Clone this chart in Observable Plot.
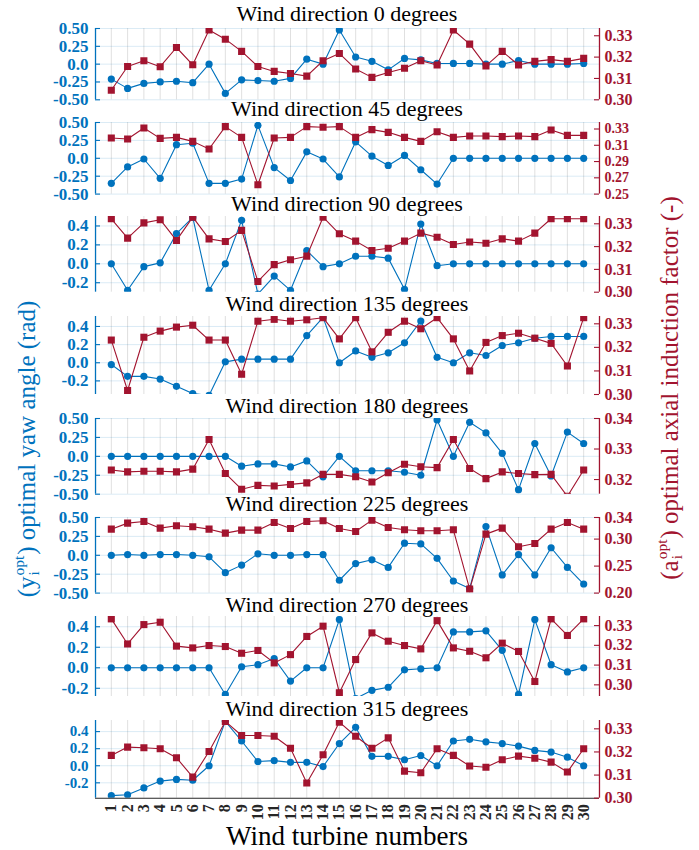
<!DOCTYPE html>
<html><head><meta charset="utf-8">
<script src="https://cdn.jsdelivr.net/npm/d3@7"></script>
<script src="https://cdn.jsdelivr.net/npm/@observablehq/plot@0.6"></script>
<style>
body{margin:0;background:#fff;}
#chart{position:relative;width:699px;height:850px;overflow:hidden;font-family:"Liberation Serif","Times New Roman",Times,Tinos,"DejaVu Serif","Noto Serif",serif;background:#fff;}
.ptitle{position:absolute;left:95px;width:504px;text-align:center;font-size:22px;line-height:22px;color:#000;white-space:nowrap;}
.layer{position:absolute;left:0;}
.ylab{position:absolute;white-space:nowrap;font-size:25px;line-height:1;transform:translate(-50%,-50%) rotate(-90deg);}
.ss{display:inline-flex;flex-direction:column;vertical-align:0.7em;font-size:0.62em;line-height:0.95;text-align:left;margin:0 1px;}
.xlab{position:absolute;left:95px;width:504px;text-align:center;font-size:27px;line-height:24px;color:#000;}
</style></head><body><div id="chart"></div><script>
const turbines = d3.range(1, 31);
const directions = [0, 45, 90, 135, 180, 225, 270, 315];

const yaw0   = [-0.21,-0.34,-0.27,-0.25,-0.24,-0.26,0.0,-0.41,-0.22,-0.23,-0.24,-0.20,0.07,0.0,0.48,0.10,0.04,-0.08,0.08,0.06,0.01,0.01,0.01,0.0,0.0,0.05,0.0,0.0,0.0,0.01];
const yaw45  = [-0.35,-0.12,-0.01,-0.28,0.19,0.21,-0.35,-0.35,-0.29,0.46,-0.13,-0.31,0.09,-0.01,-0.26,0.23,0.03,-0.10,0.04,-0.16,-0.36,0,0,0,0,0,0,0,0,0];
const yaw90  = [0,-0.28,-0.03,0.01,0.32,0.49,-0.28,0,0.46,-0.32,-0.13,-0.28,0.14,-0.03,0,0.08,0.08,0.06,-0.27,0.42,-0.02,0,0,0,0,0,0,0,0,0];
const yaw135 = [-0.02,-0.15,-0.15,-0.18,-0.26,-0.34,-0.36,0.01,0.04,0.04,0.04,0.04,0.30,0.50,0.0,0.13,0.06,0.11,0.22,0.46,0.06,0.0,0.11,0.08,0.19,0.22,0.27,0.29,0.29,0.29];
const yaw180 = [0,0,0,0,0,0,0,0,-0.13,-0.10,-0.10,-0.14,-0.06,-0.27,0,-0.19,-0.19,-0.19,-0.21,-0.25,0.48,0,0.45,0.31,0.04,-0.44,0.17,-0.26,0.32,0.17];
const yaw225 = [0,0.01,0,0.01,0.01,0,-0.02,-0.23,-0.13,0.02,0,0,0.01,0.01,-0.33,-0.11,-0.06,-0.16,0.16,0.15,-0.04,-0.34,-0.44,0.38,-0.26,0.01,-0.26,0.10,-0.16,-0.38];
const yaw270 = [0,0,0,0,0,0,0,-0.26,0.01,0.03,0.09,-0.13,0,0,0.47,-0.30,-0.22,-0.19,-0.02,-0.01,0,0.35,0.35,0.36,0.17,-0.26,0.47,0.03,-0.04,0];
const yaw315 = [-0.35,-0.34,-0.26,-0.18,-0.16,-0.17,0,0.52,0.29,0.05,0.06,0.04,0.04,-0.01,0.26,0.45,0.11,0.11,0.07,0.12,0,0.29,0.31,0.28,0.26,0.23,0.18,0.16,0.10,0];

const axial0   = [0.3045,0.3156,0.3183,0.3155,0.3245,0.3164,0.3327,0.3284,0.3227,0.3156,0.3133,0.3123,0.3111,0.3183,0.3217,0.3144,0.3105,0.3128,0.3148,0.3183,0.3163,0.3327,0.3261,0.3159,0.3227,0.3163,0.3180,0.3188,0.3180,0.3194];
const axial45  = [0.3189,0.3177,0.3312,0.3185,0.3197,0.3148,0.3054,0.3329,0.3197,0.2615,0.3189,0.3197,0.3329,0.3321,0.3329,0.3197,0.3292,0.3259,0.3197,0.3148,0.3267,0.3197,0.3214,0.3214,0.3206,0.3214,0.3206,0.3288,0.3222,0.3222];
const axial90  = [0.3322,0.3237,0.3304,0.3318,0.3227,0.3329,0.3234,0.3222,0.3271,0.3047,0.3121,0.3142,0.3158,0.3329,0.3256,0.3224,0.3183,0.3193,0.3224,0.3259,0.3241,0.3209,0.3220,0.3215,0.3234,0.3224,0.3259,0.3322,0.3322,0.3322];
const axial135 = [0.3231,0.3017,0.3243,0.3269,0.3286,0.3294,0.3231,0.3231,0.3086,0.3311,0.3319,0.3311,0.3317,0.3326,0.3236,0.3326,0.3181,0.3264,0.3311,0.3279,0.3326,0.3236,0.3100,0.3221,0.3250,0.3260,0.3239,0.3217,0.3121,0.3326];
const axial180 = [0.3231,0.3225,0.3227,0.3227,0.3225,0.3234,0.3331,0.3220,0.3168,0.3181,0.3179,0.3184,0.3189,0.3217,0.3217,0.3209,0.3192,0.3222,0.3250,0.3242,0.3239,0.3331,0.3236,0.3203,0.3225,0.3220,0.3216,0.3217,0.3145,0.3231];
const axial225 = [0.3184,0.3296,0.3326,0.3203,0.3246,0.3228,0.3184,0.3110,0.3166,0.3166,0.3308,0.3197,0.3326,0.3339,0.3197,0.3141,0.3351,0.3215,0.3172,0.3154,0.3154,0.3172,0.2074,0.3092,0.3203,0.2858,0.2919,0.3184,0.3308,0.3184];
const axial270 = [0.3334,0.3207,0.3305,0.3317,0.3196,0.3187,0.3199,0.3194,0.3160,0.3174,0.3111,0.3153,0.3245,0.3297,0.2960,0.3128,0.3263,0.3221,0.3199,0.3182,0.3325,0.3187,0.3170,0.3137,0.3211,0.3169,0.3017,0.3334,0.3250,0.3334];
const axial315 = [0.3185,0.3221,0.3218,0.3214,0.3175,0.3091,0.3202,0.3332,0.3271,0.3271,0.3268,0.3216,0.3066,0.3188,0.3329,0.3268,0.3216,0.3261,0.3117,0.3110,0.3214,0.3185,0.3139,0.3134,0.3166,0.3182,0.3173,0.3156,0.3113,0.3214];

const yawTicksWide = [-0.5, -0.25, 0, 0.25, 0.5];
const yawTicksNarrow = [-0.2, 0, 0.2, 0.4];
const yawTicks = [yawTicksWide, yawTicksWide, yawTicksNarrow, yawTicksNarrow, yawTicksWide, yawTicksWide, yawTicksNarrow, yawTicksNarrow];
const yawDomains = [[-0.5,0.5],[-0.5,0.5],[-0.3,0.5],[-0.35,0.51],[-0.5,0.5],[-0.5,0.5],[-0.28,0.5],[-0.38,0.53]];
const axialTicks = [
  [0.30,0.31,0.32,0.33],
  [0.25,0.27,0.29,0.31,0.33],
  [0.30,0.31,0.32,0.33],
  [0.30,0.31,0.32,0.33],
  [0.32,0.33,0.34],
  [0.20,0.25,0.30,0.34],
  [0.30,0.31,0.32,0.33],
  [0.30,0.31,0.32,0.33]
];
const axialDomains = [[0.30,0.3334],[0.25,0.338],[0.30,0.3332],[0.30,0.3331],[0.3152,0.34],[0.20,0.34],[0.2941,0.3346],[0.30,0.3336]];

const yawSeries = [yaw0, yaw45, yaw90, yaw135, yaw180, yaw225, yaw270, yaw315];
const axialSeries = [axial0, axial45, axial90, axial135, axial180, axial225, axial270, axial315];

// layout (pixels)
const panelTop = [27.7, 121.7, 216, 316, 418.3, 516.7, 616, 720];
const panelBottom = [99, 193.3, 291.7, 394, 494, 592.3, 696, 797.7];
const titleY = [14, 109, 204, 304, 405.7, 504, 605, 709];

const BLUE = "#0072BD", RED = "#A2142F", DARK = "#262626";
const W = 699, ML = 95, MR = 100, PW = W - ML - MR;
const xDomain = [0.03, 30.97];
const FONT = "'Liberation Serif', 'Times New Roman', Times, Tinos, 'DejaVu Serif', 'Noto Serif', serif";

const fmtYaw = (ticks) => (d) => {
  if (d === 0) return "0.0";
  const dec = ticks.includes(0.25) ? 2 : 1;
  return (d < 0 ? "-" : "") + Math.abs(d).toFixed(dec);
};

const chart = document.getElementById("chart");

directions.forEach((dir, k) => {
  const top = panelTop[k], bot = panelBottom[k];
  const mt = 12, mb = k === 7 ? 50 : 12;
  const h = (bot - top) + mt + mb;
  const rows = turbines.map((t, i) => ({t, yaw: yawSeries[k][i], a: axialSeries[k][i]}));
  const rightFont = axialTicks[k].length > 4 ? 14 : 16;
  const leftFont = k === 7 ? 15 : 17;

  const t = document.createElement("div");
  t.className = "ptitle";
  t.style.top = (titleY[k] - 11) + "px";
  t.textContent = `Wind direction ${dir} degrees`;
  chart.appendChild(t);

  const common = {
    width: W, height: h, marginLeft: ML, marginRight: MR, marginTop: mt, marginBottom: mb,
    x: {domain: xDomain, axis: null}
  };

  const blue = Plot.plot({
    ...common,
    y: {domain: yawDomains[k], axis: null},
    style: {fontFamily: FONT, fontSize: leftFont + "px", background: "transparent", overflow: "visible", color: BLUE},
    marks: [
      Plot.ruleX(turbines, {x: d => d, stroke: DARK, strokeOpacity: 0.15}),
      Plot.ruleY(yawTicks[k], {y: d => d, stroke: BLUE, strokeOpacity: 0.15}),
      Plot.lineY(rows, {x: "t", y: "yaw", stroke: BLUE, strokeWidth: 1.1, clip: true}),
      Plot.dot(rows, {x: "t", y: "yaw", fill: BLUE, r: 3.6, symbol: "circle", clip: true}),
      Plot.ruleX([xDomain[0]], {stroke: BLUE, strokeWidth: 1.3}),
      Plot.tickY(yawTicks[k], {y: d => d, stroke: BLUE, strokeWidth: 1.1, insetRight: PW - 5}),
      Plot.axisY({anchor: "left", label: null, ticks: yawTicks[k], tickFormat: fmtYaw(yawTicks[k]), tickSize: 0, tickPadding: 7, color: BLUE, fill: BLUE, fontSize: leftFont, fontWeight: "bold"}),
      ...(k === 7 ? [
        Plot.ruleY([yawDomains[k][0]], {stroke: DARK, strokeWidth: 1.1}),
        Plot.axisX({anchor: "bottom", label: null, ticks: turbines, tickFormat: d => String(d), tickRotate: -90, tickSize: 0, tickPadding: 6, color: DARK, fill: DARK, fontSize: 16, fontWeight: "bold"})
      ] : [])
    ]
  });
  blue.classList.add("layer");
  blue.style.top = (top - mt) + "px";
  chart.appendChild(blue);

  const red = Plot.plot({
    ...common,
    y: {domain: axialDomains[k], axis: null},
    style: {fontFamily: FONT, fontSize: rightFont + "px", background: "transparent", overflow: "visible", color: RED},
    marks: [
      Plot.lineY(rows, {x: "t", y: "a", stroke: RED, strokeWidth: 1.1, clip: true}),
      Plot.dot(rows, {x: "t", y: "a", fill: RED, r: 4, symbol: "square", clip: true}),
      Plot.ruleX([xDomain[1]], {stroke: RED, strokeWidth: 1.3}),
      Plot.tickY(axialTicks[k], {y: d => d, stroke: RED, strokeWidth: 1.1, insetLeft: PW - 5}),
      Plot.axisY({anchor: "right", label: null, ticks: axialTicks[k], tickFormat: d => d.toFixed(2), tickSize: 0, tickPadding: 5, color: RED, fill: RED, fontSize: rightFont, fontWeight: "bold"})
    ]
  });
  red.classList.add("layer");
  red.style.top = (top - mt) + "px";
  chart.appendChild(red);
});

const ly = document.createElement("div");
ly.className = "ylab";
ly.style.left = "27px"; ly.style.top = "449px"; ly.style.color = BLUE;
ly.innerHTML = '(y<span class="ss"><span>opt</span><span>i</span></span>) optimal yaw angle (rad)';
chart.appendChild(ly);

const ry = document.createElement("div");
ry.className = "ylab";
ry.style.left = "670px"; ry.style.top = "388px"; ry.style.color = RED;
ry.innerHTML = '(a<span class="ss"><span>opt</span><span>i</span></span>) optimal axial induction factor (-)';
chart.appendChild(ry);

const xl = document.createElement("div");
xl.className = "xlab";
xl.style.top = "824px";
xl.textContent = "Wind turbine numbers";
chart.appendChild(xl);
</script></body></html>
